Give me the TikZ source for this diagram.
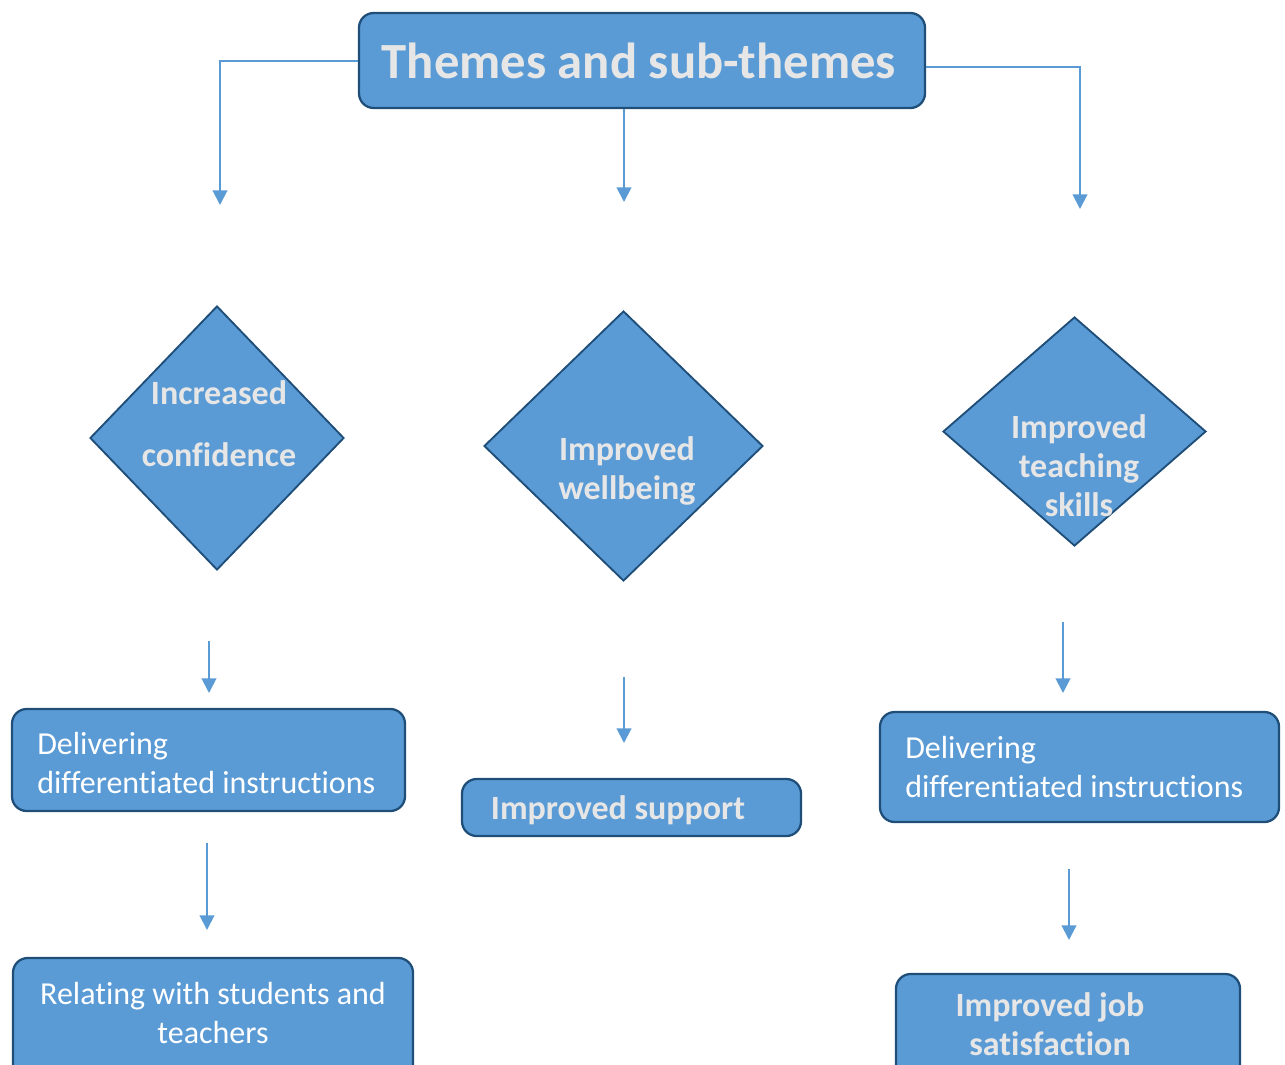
\documentclass[tikz,border=0pt]{standalone}
\usepackage{fontspec}
\setmainfont{Carlito}[Ligatures=NoCommon]
\usetikzlibrary{shapes.geometric,arrows.meta}
\definecolor{boxblue}{HTML}{5B9BD5}
\definecolor{edgeblue}{HTML}{1F4E79}
\definecolor{lineblue}{HTML}{5B9BD5}
\definecolor{paletext}{HTML}{E7E6E6}
\tikzset{
  boxshape/.style={draw=edgeblue, fill=boxblue, line width=1.7pt, rounded corners=11pt, minimum width=#1},
  dshape/.style={diamond, draw=edgeblue, fill=boxblue, line width=1.4pt, inner sep=0pt},
  boldtxt/.style={text=paletext, font=\fontsize{25.5pt}{29.25pt}\selectfont\bfseries, align=center, inner sep=0pt, anchor=base},
  regtxt/.style={text=white, font=\fontsize{24pt}{29.25pt}\selectfont, inner sep=0pt, anchor=base},
  arr/.style={draw=lineblue, line width=1.5pt, -{Triangle[width=11pt,length=11pt]}},
}
\begin{document}
\begin{tikzpicture}[x=0.75pt,y=-0.75pt]
\useasboundingbox (0,0) rectangle (1285,1064);
\clip (0,0) rectangle (1285,1064);
% title
\node[boxshape=424.5pt, minimum height=71.25pt] (title) at (642,60.5) {};
\node[text=paletext, font=\fontsize{38pt}{45pt}\selectfont\bfseries, inner sep=0pt, anchor=base] (titletxt) at (639,78) {Themes and sub-themes};
% diamonds
\node[dshape, minimum width=190.5pt, minimum height=198pt] (d1) at (217,438) {};
\node[dshape, minimum width=209.25pt, minimum height=202.5pt] (d2) at (623.5,446) {};
\node[dshape, minimum width=197.25pt, minimum height=171.75pt] (d3) at (1074.5,431.5) {};
\node[boldtxt] (d1a) at (219,404) {Increased};
\node[boldtxt] (d1b) at (219,466) {confidence};
\node[boldtxt] (d2t) at (627,499) {Improved\\wellbeing};
\node[boldtxt] (d3t) at (1079,516) {Improved\\teaching\\skills};
% boxes
\node[boxshape=294.75pt, minimum height=76.5pt] (l1) at (208.5,760) {};
\node[regtxt, align=left, anchor=base west] (l1t) at (37,793) {Delivering\\differentiated instructions};
\node[boxshape=254.25pt, minimum height=42.75pt] (m1) at (631.5,807.5) {};
\node[boldtxt] (m1t) at (618,819) {Improved support};
\node[boxshape=299.25pt, minimum height=82.5pt] (r1) at (1079.5,767) {};
\node[regtxt, align=left, anchor=base west] (r1t) at (905,797) {Delivering\\differentiated instructions};
\node[boxshape=300pt, minimum height=97.5pt] (l2) at (213,1023) {};
\node[regtxt, align=center] (l2t) at (213,1043) {Relating with students and\\teachers};
\node[boxshape=258pt, minimum height=90pt] (r2) at (1068,1034) {};
\node[boldtxt] (r2t) at (1050,1055) {Improved job\\satisfaction};
% connector end points
\coordinate (tipL) at (220,205);
\coordinate (tipM) at (624,202);
\coordinate (tipR) at (1080,209);
\coordinate (a1s) at (209,641); \coordinate (a1e) at (209,693);
\coordinate (a2s) at (624,677); \coordinate (a2e) at (624,743);
\coordinate (a3s) at (1063,622); \coordinate (a3e) at (1063,693);
\coordinate (a4s) at (207,843); \coordinate (a4e) at (207,930);
\coordinate (a5s) at (1069,869); \coordinate (a5e) at (1069,940);
% connectors
\draw[arr] (title.west) -| (tipL);
\draw[arr] (title.south -| tipM) -- (tipM);
\draw[arr] ([yshift=-4.5pt]title.east) -| (tipR);
\draw[arr] (a1s) -- (a1e);
\draw[arr] (a2s) -- (a2e);
\draw[arr] (a3s) -- (a3e);
\draw[arr] (a4s) -- (a4e);
\draw[arr] (a5s) -- (a5e);
\end{tikzpicture}
\end{document}
